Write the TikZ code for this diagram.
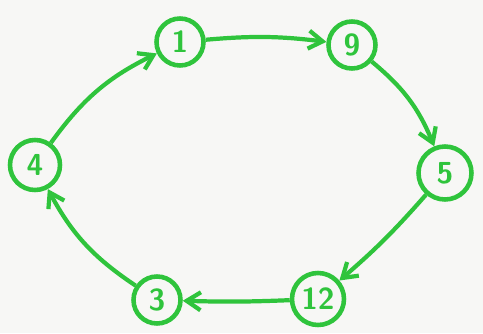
\documentclass[tikz,border=0pt]{standalone}
\usepackage{tikz}
\usetikzlibrary{arrows.meta}
\definecolor{pen}{HTML}{2FC43C}
\definecolor{paper}{HTML}{F7F7F5}

\begin{document}
\begin{tikzpicture}[
  num/.style={circle,draw=pen,line width=2.6pt,text=pen,minimum size=9.4mm,inner sep=0pt,
              font=\sffamily\bfseries\LARGE},
  edge/.style={-{Straight Barb[length=2.8mm,width=3.6mm,line width=2.4pt]},draw=pen,line width=2.4pt,bend left=14}]

% ---- paper
\fill[paper] (0,0) rectangle (9.66,6.66);
\useasboundingbox (0,0) rectangle (9.66,6.66);

% ---- numbers round the ring
\node[num] (n1)  at (3.60,5.82) {1};
\node[num] (n9)  at (7.04,5.76) {9};
\node[num,minimum size=10.6mm] (n5)  at (8.90,3.20) {5};
\node[num,minimum size=10.4mm] (n12) at (6.36,0.68) {12};
\node[num] (n3)  at (3.14,0.66) {3};
\node[num,minimum size=10mm] (n4)  at (0.70,3.36) {4};

% ---- cycle, clockwise
\draw[edge,bend left=6] (n1) to (n9);
\draw[edge] (n9) to (n5);
\draw[edge,bend left=4] (n5) to (n12);
\draw[edge,bend left=2] (n12) to (n3);
\draw[edge] (n3) to (n4);
\draw[edge] (n4) to (n1);
\end{tikzpicture}
\end{document}
